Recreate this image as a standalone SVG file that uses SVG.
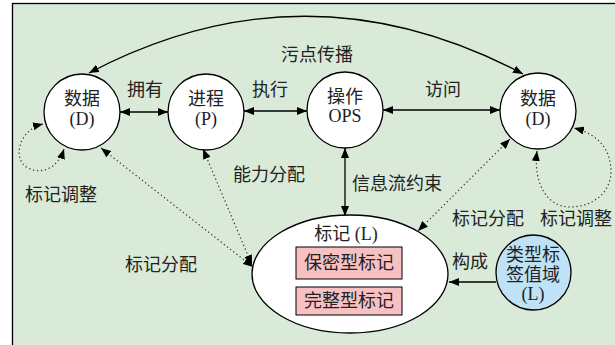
<svg xmlns="http://www.w3.org/2000/svg" width="615" height="345" viewBox="0 0 615 345">
<defs>
<marker id="ah" viewBox="0 0 10 8" refX="10" refY="4" markerWidth="10" markerHeight="8" markerUnits="userSpaceOnUse" orient="auto-start-reverse">
<path d="M0,0 L10,4 L0,8 z" fill="#000"/>
</marker>
<style>
text{font-family:"Liberation Serif","Noto Sans CJK SC",serif;font-size:18px;fill:#222;text-anchor:middle}
.node{fill:#fff;stroke:#000;stroke-width:1.3}
.solid{fill:none;stroke:#000;stroke-width:1.3;marker-start:url(#ah);marker-end:url(#ah)}
.one{fill:none;stroke:#000;stroke-width:1.3;marker-end:url(#ah)}
.dot{fill:none;stroke:#333;stroke-width:1.2;stroke-dasharray:1.3 2.7;marker-start:url(#ah);marker-end:url(#ah)}
.dot1{fill:none;stroke:#333;stroke-width:1.2;stroke-dasharray:1.3 2.7;marker-end:url(#ah)}
.box{fill:#f7c1c4;stroke:#000;stroke-width:1}
</style>
</defs>
<rect x="12.5" y="3.5" width="620" height="360" fill="#d9ead8" stroke="#000" stroke-width="1.3"/>
<g id="connectors">
<path class="solid" d="M89,73 Q306,-41 523,74"/>
<line class="solid" x1="120" y1="112" x2="168" y2="112"/>
<line class="solid" x1="244" y1="111" x2="307" y2="111"/>
<line class="solid" x1="383" y1="110" x2="500" y2="110"/>
<line class="solid" x1="345" y1="148" x2="345" y2="216"/>
<path class="dot" d="M43,124 C18,130 12,160 28,168 C42,175 58,168 64,149"/>
<path class="dot" d="M537,151 C533,185 548,207 570,207 C595,207 612,190 611,170 C610,150 600,135 574,128"/>
<line class="dot" x1="101" y1="148" x2="253" y2="267"/>
<line class="dot" x1="203" y1="149" x2="252" y2="265"/>
<line class="dot" x1="510" y1="139" x2="418" y2="231"/>
<line class="one" x1="496" y1="282" x2="449" y2="282"/>
</g>
<g id="labels">
<text x="317" y="61">污点传播</text>
<text x="145" y="96">拥有</text>
<text x="270" y="96">执行</text>
<text x="443" y="96">访问</text>
<text x="269" y="181">能力分配</text>
<text x="61" y="201">标记调整</text>
<text x="161" y="271">标记分配</text>
<text x="397" y="190">信息流约束</text>
<text x="488" y="225">标记分配</text>
<text x="576" y="225">标记调整</text>
<text x="470" y="268">构成</text>
</g>
<g id="data-left">
<circle class="node" cx="82" cy="112" r="38"/>
<text x="82" y="105">数据</text>
<text x="82" y="125">(D)</text>
</g>
<g id="process">
<circle class="node" cx="206" cy="112" r="38"/>
<text x="206" y="105">进程</text>
<text x="206" y="125">(P)</text>
</g>
<g id="ops">
<circle class="node" cx="345" cy="110" r="38"/>
<text x="345" y="103">操作</text>
<text x="345" y="122">OPS</text>
</g>
<g id="data-right">
<circle class="node" cx="538" cy="111" r="38"/>
<text x="538" y="105">数据</text>
<text x="538" y="125">(D)</text>
</g>
<g id="label-L">
<ellipse class="node" cx="350" cy="274" rx="98" ry="59"/>
<text x="346" y="240">标记 (L)</text>
<rect class="box" x="296" y="247" width="106" height="32"/>
<text x="349" y="269">保密型标记</text>
<rect class="box" x="296" y="287" width="106" height="28"/>
<text x="349" y="307">完整型标记</text>
</g>
<g id="type-domain">
<circle cx="533.5" cy="272.5" r="37.5" fill="#bfe2f6" stroke="#000" stroke-width="1.3"/>
<text x="533" y="261">类型标</text>
<text x="533" y="281">签值域</text>
<text x="533" y="300">(L)</text>
</g>
</svg>
